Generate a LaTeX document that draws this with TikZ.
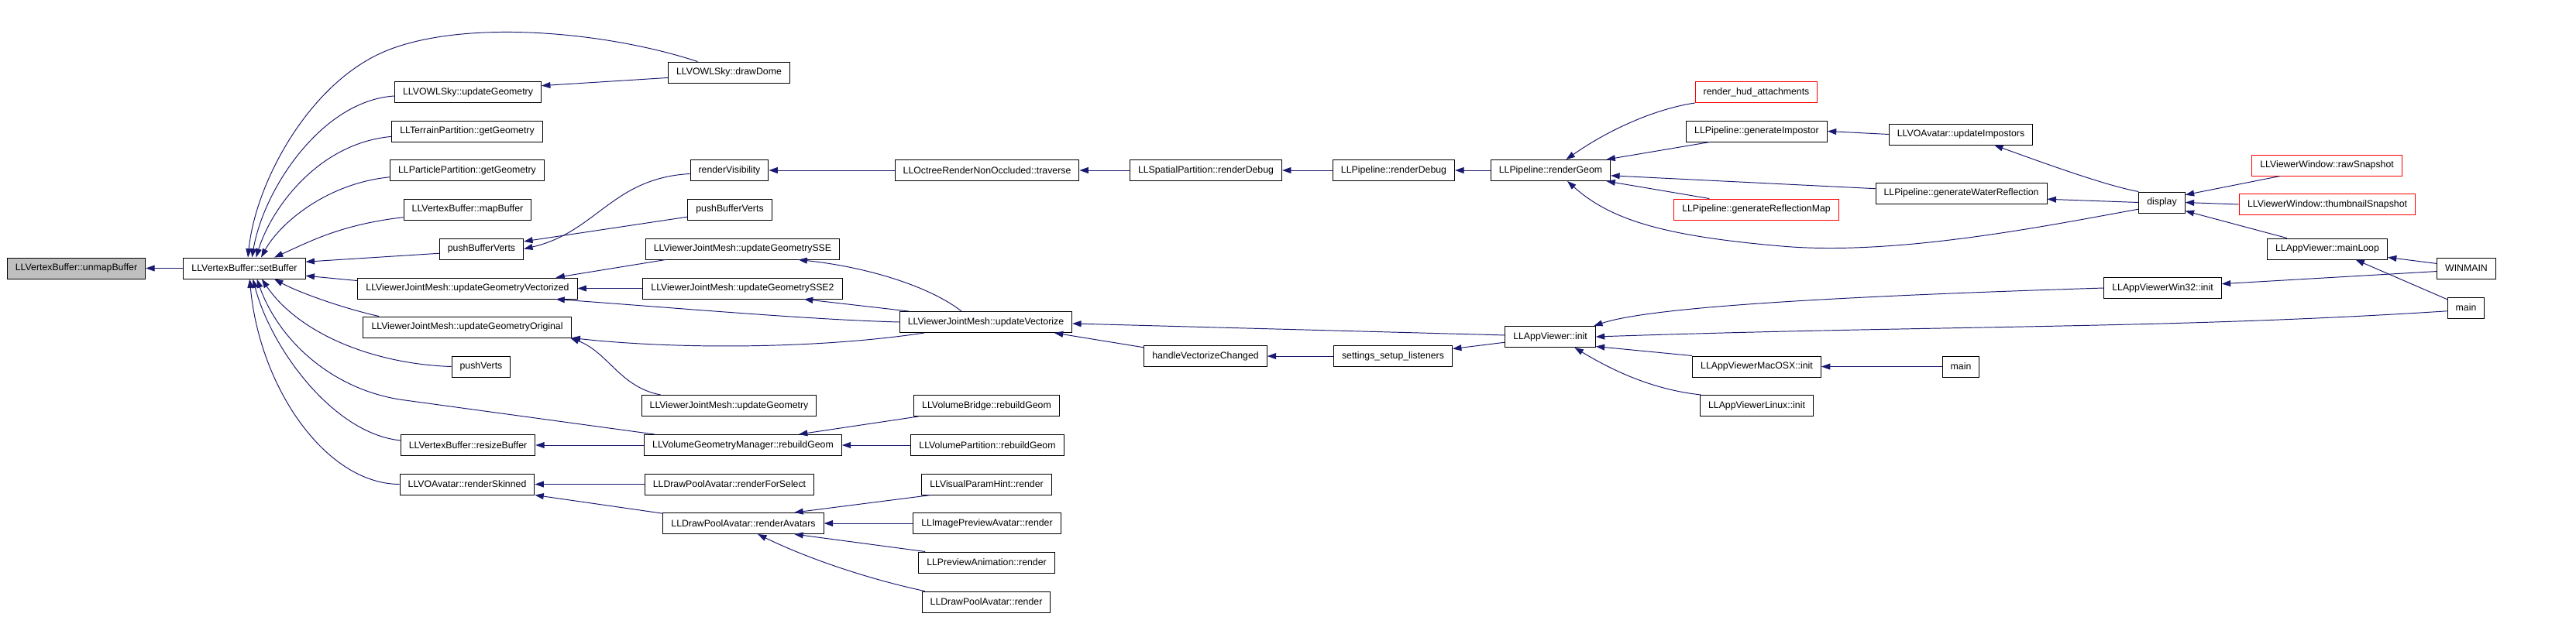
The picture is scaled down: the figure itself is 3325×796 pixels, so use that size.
\documentclass[tikz,border=0pt]{standalone}
\usepackage{fontspec}
\setmainfont{Liberation Sans}
\usetikzlibrary{arrows.meta}
\definecolor{edgeblue}{HTML}{191970}

\begin{document}
\begin{tikzpicture}[
    x=0.02cm, y=-0.02cm,
    fn/.style={rectangle, draw=black, line width=0.55pt, fill=white, minimum height=0.54cm, inner xsep=6pt, inner ysep=0pt, font=\fontsize{7}{8}\selectfont},
    focus/.style={fn, fill=black!25},
    undoc/.style={fn, draw=red},
    call/.style={<-, >={Triangle[length=6.5pt,width=4.5pt]}, draw=edgeblue, line width=0.55pt}
]
\useasboundingbox (0,0) rectangle (3325,796);

% Function and its direct caller
\node[focus] (unmap) at (98.5,346.5) {LLVertexBuffer::unmapBuffer};
\node[fn] (setbuf) at (315.5,346.5) {LLVertexBuffer::setBuffer};

% Callers of setBuffer
\node[fn] (owlgeom) at (604,119) {LLVOWLSky::updateGeometry};
\node[fn] (terrain) at (603,169.5) {LLTerrainPartition::getGeometry};
\node[fn] (particle) at (603,220) {LLParticlePartition::getGeometry};
\node[fn] (mapbuf) at (603.5,270.5) {LLVertexBuffer::mapBuffer};
\node[fn] (pushbv) at (621.5,321.5) {pushBufferVerts};
\node[fn] (geomvec) at (603.5,372.5) {LLViewerJointMesh::updateGeometryVectorized};
\node[fn] (geomorig) at (603,422.5) {LLViewerJointMesh::updateGeometryOriginal};
\node[fn] (pushverts) at (621,473.5) {pushVerts};
\node[fn] (resizebuf) at (604,575) {LLVertexBuffer::resizeBuffer};
\node[fn] (skinned) at (603,625.5) {LLVOAvatar::renderSkinned};

% Second rank
\node[fn] (drawdome) at (941,93.5) {LLVOWLSky::drawDome};
\node[fn] (rendervis) at (941.5,220) {renderVisibility};
\node[fn] (pushbv2) at (942,270.5) {pushBufferVerts};
\node[fn] (geomsse) at (958.5,321.5) {LLViewerJointMesh::updateGeometrySSE};
\node[fn] (geomsse2) at (958.5,372.5) {LLViewerJointMesh::updateGeometrySSE2};
\node[fn] (jmgeom) at (941,524) {LLViewerJointMesh::updateGeometry};
\node[fn] (volmgr) at (959,575) {LLVolumeGeometryManager::rebuildGeom};
\node[fn] (forselect) at (941.5,625.5) {LLDrawPoolAvatar::renderForSelect};
\node[fn] (avatars) at (959.5,676) {LLDrawPoolAvatar::renderAvatars};

% Third rank
\node[fn] (traverse) at (1274,220) {LLOctreeRenderNonOccluded::traverse};
\node[fn] (vectorize) at (1272.5,416) {LLViewerJointMesh::updateVectorize};
\node[fn] (volbridge) at (1273.5,524) {LLVolumeBridge::rebuildGeom};
\node[fn] (volpart) at (1274.5,575) {LLVolumePartition::rebuildGeom};
\node[fn] (paramhint) at (1273.5,625.5) {LLVisualParamHint::render};
\node[fn] (imgpreview) at (1274,676) {LLImagePreviewAvatar::render};
\node[fn] (previewanim) at (1273.5,726.5) {LLPreviewAnimation::render};
\node[fn] (poolrender) at (1273,777.5) {LLDrawPoolAvatar::render};

% Pipeline / settings chain
\node[fn] (spatialdbg) at (1556.5,220) {LLSpatialPartition::renderDebug};
\node[fn] (handlevec) at (1556,460) {handleVectorizeChanged};
\node[fn] (pipedbg) at (1799,220) {LLPipeline::renderDebug};
\node[fn] (settings) at (1798,460) {settings\_setup\_listeners};
\node[fn] (rendergeom) at (2001.5,220) {LLPipeline::renderGeom};
\node[fn] (appinit) at (2001,435) {LLAppViewer::init};

% Callers of renderGeom and init
\node[undoc] (hud) at (2267,119) {render\_hud\_attachments};
\node[fn] (genimpostor) at (2267.5,169.5) {LLPipeline::generateImpostor};
\node[undoc] (reflmap) at (2267,270.5) {LLPipeline::generateReflectionMap};
\node[fn] (macinit) at (2267.5,473.5) {LLAppViewerMacOSX::init};
\node[fn] (linuxinit) at (2267.5,524) {LLAppViewerLinux::init};
\node[fn] (updimpostors) at (2531,173.5) {LLVOAvatar::updateImpostors};
\node[fn] (waterrefl) at (2531.5,249.5) {LLPipeline::generateWaterReflection};
\node[fn] (mainmac) at (2531,473.5) {main};

% Top level
\node[fn] (display) at (2790.5,261.5) {display};
\node[fn] (win32init) at (2791.5,372) {LLAppViewerWin32::init};
\node[undoc] (rawsnap) at (3003.5,213.5) {LLViewerWindow::rawSnapshot};
\node[undoc] (thumbsnap) at (3004,264) {LLViewerWindow::thumbnailSnapshot};
\node[fn] (mainloop) at (3004,321.5) {LLAppViewer::mainLoop};
\node[fn] (winmain) at (3183.5,346.5) {WINMAIN};
\node[fn] (mainlinux) at (3183,397.5) {main};

% Calls into setBuffer
\draw[call] (unmap.east) -- (setbuf.west);
\draw[call] (setbuf.72) .. controls (330,235) and (400,105) .. (500,65) .. controls (600,25) and (780,40) .. (drawdome.161);
\draw[call] (setbuf.55) .. controls (340,245) and (415,130) .. (owlgeom.183);
\draw[call] (setbuf.43) .. controls (350,270) and (410,185) .. (terrain.184);
\draw[call] (setbuf.33) .. controls (360,290) and (420,237) .. (particle.185);
\draw[call] (setbuf.20) .. controls (400,312) and (440,290) .. (mapbuf.187);
\draw[call] (setbuf.6) -- (pushbv.186);
\draw[call] (setbuf.-7) -- (geomvec.176);
\draw[call] (setbuf.-20) .. controls (390,380) and (450,400) .. (geomorig.173);
\draw[call] (setbuf.-32) .. controls (385,430) and (480,470) .. (pushverts.west);
\draw[call] (setbuf.-41) .. controls (360,440) and (430,505) .. (523,517) -- (volmgr.173);
\draw[call] (setbuf.-52) .. controls (350,450) and (430,560) .. (resizebuf.176);
\draw[call] (setbuf.-64) .. controls (335,500) and (420,625) .. (skinned.west);

% Second rank calls
\draw[call] (owlgeom.5) -- (drawdome.185);
\draw[call] (pushbv.east) .. controls (770,300) and (790,230) .. (rendervis.185);
\draw[call] (pushbv.10) -- (pushbv2.190);
\draw[call] (geomvec.7) -- (geomsse.188);
\draw[call] (geomvec.east) -- (geomsse2.west);
\draw[call] (geomvec.-7) .. controls (900,400) and (1050,413) .. (vectorize.west);
\draw[call] (geomorig.south east) .. controls (880,452) and (1060,450) .. (vectorize.190);
\draw[call] (geomorig.-6) .. controls (785,455) and (800,500) .. (jmgeom.171);
\draw[call] (resizebuf.east) -- (volmgr.west);
\draw[call] (skinned.east) -- (forselect.west);
\draw[call] (skinned.south east) -- (avatars.173);

% Third rank calls
\draw[call] (rendervis.east) -- (traverse.west);
\draw[call] (geomsse.-11) .. controls (1120,345) and (1200,370) .. (vectorize.156);
\draw[call] (geomsse2.-10) -- (vectorize.172);
\draw[call] (volmgr.11) -- (volbridge.189);
\draw[call] (volmgr.east) -- (volpart.west);
\draw[call] (avatars.12) -- (paramhint.191);
\draw[call] (avatars.east) -- (imgpreview.west);
\draw[call] (avatars.-12) -- (previewanim.170);
\draw[call] (avatars.-37) .. controls (1050,725) and (1130,750) .. (poolrender.170);

% Pipeline chain
\draw[call] (traverse.east) -- (spatialdbg.west);
\draw[call] (vectorize.-9) -- (handlevec.172);
\draw[call] (vectorize.-1) -- (appinit.178);
\draw[call] (spatialdbg.east) -- (pipedbg.west);
\draw[call] (handlevec.east) -- (settings.west);
\draw[call] (pipedbg.east) -- (rendergeom.west);
\draw[call] (settings.7) -- (appinit.187);

% Callers of renderGeom
\draw[call] (rendergeom.35) .. controls (2080,165) and (2140,140) .. (hud.190);
\draw[call] (rendergeom.11) -- (genimpostor.193);
\draw[call] (rendergeom.-5) -- (waterrefl.177);
\draw[call] (rendergeom.-11) -- (reflmap.167);
\draw[call] (rendergeom.-33) .. controls (2080,285) and (2150,305) .. (2300,318) .. controls (2450,331) and (2650,290) .. (display.196);
\draw[call] (genimpostor.east) -- (updimpostors.west);
\draw[call] (updimpostors.-18) .. controls (2650,215) and (2720,240) .. (display.north west);
\draw[call] (waterrefl.-4) -- (display.west);

% Callers of init
\draw[call] (appinit.14) .. controls (2120,400) and (2300,385) .. (win32init.west);
\draw[call] (appinit.east) .. controls (2500,420) and (2800,425) .. (mainlinux.190);
\draw[call] (appinit.-12) -- (macinit.north west);
\draw[call] (appinit.-24) .. controls (2100,490) and (2150,505) .. (linuxinit.169);
\draw[call] (macinit.east) -- (mainmac.west);

% Top level
\draw[call] (display.18) -- (rawsnap.193);
\draw[call] (display.east) -- (thumbsnap.west);
\draw[call] (display.-20) -- (mainloop.165);
\draw[call] (mainloop.-8) -- (winmain.171);
\draw[call] (mainloop.-21) -- (mainlinux.156);
\draw[call] (win32init.4) -- (winmain.186);

\end{tikzpicture}
\end{document}
